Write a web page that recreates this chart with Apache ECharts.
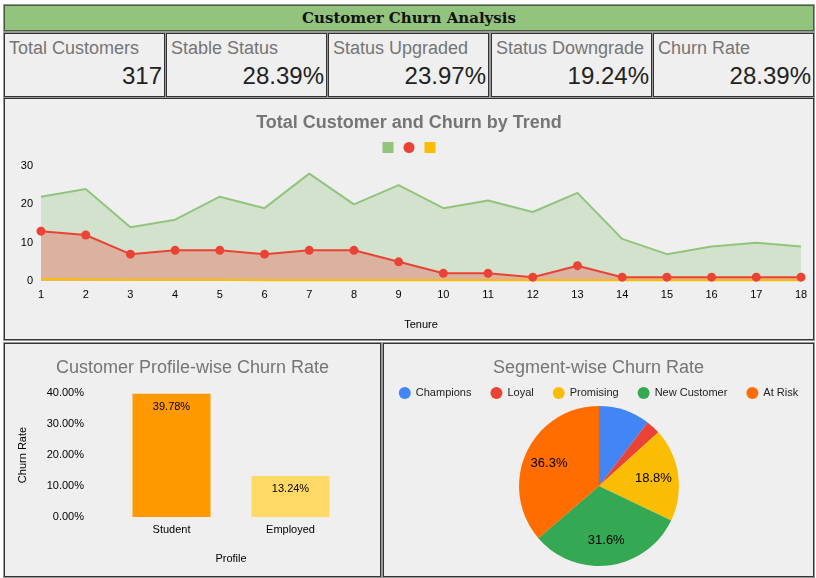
<!DOCTYPE html>
<html>
<head>
<meta charset="utf-8">
<script src="https://cdn.jsdelivr.net/npm/echarts@6/dist/echarts.min.js"></script>
<style>
  html, body { margin: 0; padding: 0; background: #ffffff; }
  body { width: 816px; height: 578px; position: relative; overflow: hidden; font-family: "Liberation Sans", Arial, sans-serif; }
  .box { position: absolute; box-sizing: border-box; border: 1px solid #333; background: #efefef; box-shadow: 0 0 0 1px #999; }
  #head { left: 4px; top: 5px; width: 810px; height: 26px; background: #93c47d; border-color: #4a5a3f;
          font-family: "DejaVu Serif", serif; font-weight: bold; font-size: 15px; color: #111; text-align: center; line-height: 25px; }
  .kpi { top: 33px; height: 64px; width: 161px; }
  .kpi .lbl { position: absolute; left: 4px; top: 4px; font-size: 18px; color: #757575; white-space: nowrap; }
  .kpi .val { position: absolute; right: 2px; top: 28px; font-size: 24px; color: #222; }
  .chart { position: absolute; left: 0; top: 0; }
</style>
</head>
<body>
<div id="head" class="box">Customer Churn Analysis</div>
<div id="kpis"></div>
<div class="box" style="left:4px;top:98px;width:810px;height:242px;"><div id="trend_chart" class="chart" style="width:808px;height:240px;"></div></div>
<div class="box" style="left:4px;top:343px;width:377px;height:234px;"><div id="profile_chart" class="chart" style="width:375px;height:232px;"></div></div>
<div class="box" style="left:383px;top:343px;width:431px;height:234px;"><div id="segment_chart" class="chart" style="width:429px;height:232px;"></div></div>

<script>
// KPI 卡片
const kpiLabels = ['Total Customers', 'Stable Status', 'Status Upgraded', 'Status Downgrade', 'Churn Rate'];
const kpiValues = ['317', '28.39%', '23.97%', '19.24%', '28.39%'];

// 趋势图数据
const tenure = ['1','2','3','4','5','6','7','8','9','10','11','12','13','14','15','16','17','18'];
const totalCustomers = [22, 24, 14, 16, 22, 19, 28, 20, 25, 19, 21, 18, 23, 11, 7, 9, 10, 9];
const churned = [13, 12, 7, 8, 8, 7, 8, 8, 5, 2, 2, 1, 4, 1, 1, 1, 1, 1];
const downgraded = [0.5, 0.4, 0.3, 0.3, 0.3, 0.2, 0.2, 0.2, 0.2, 0.2, 0.2, 0.2, 0.2, 0.2, 0.2, 0.2, 0.2, 0.2];

// 用户画像流失率
const profiles = ['Student', 'Employed'];
const profileRates = [39.78, 13.24];
const profileColors = ['#ff9900', '#ffd966'];

// 分群流失率
const segments = ['Champions', 'Loyal', 'Promising', 'New Customer', 'At Risk'];
const segmentShare = [10.4, 2.9, 18.8, 31.6, 36.3];
const segmentColors = ['#4285f4', '#ea4335', '#fbbc04', '#34a853', '#ff6d01'];

const kpiLeft = [4, 166, 328, 491, 653];
let kpiHtml = '';
kpiLabels.forEach((item, i) => {
    kpiHtml += '<div class="box kpi" style="left:' + kpiLeft[i] + 'px"><div class="lbl">' + item +
        '</div><div class="val">' + kpiValues[i] + '</div></div>';
});
document.getElementById('kpis').innerHTML = kpiHtml;

const font = '"Liberation Sans", Arial, sans-serif';

let trendChart = echarts.init(document.getElementById('trend_chart'));
trendChart.setOption({
    animation: false,
    title: {
        text: 'Total Customer and Churn by Trend',
        left: 'center', top: 10,
        textStyle: { fontFamily: font, fontSize: 18, fontWeight: 'bold', color: '#757575' }
    },
    legend: {
        top: 38, left: 'center', itemWidth: 11, itemHeight: 11, itemGap: 10,
        formatter: () => '',
        data: [
            { name: 'Customers', icon: 'rect' },
            { name: 'Churned', icon: 'circle' },
            { name: 'Downgraded', icon: 'rect' }
        ]
    },
    grid: { left: 36, right: 12, top: 67, bottom: 58 },
    xAxis: {
        type: 'category', data: tenure, boundaryGap: false,
        name: 'Tenure', nameLocation: 'middle', nameGap: 38,
        nameTextStyle: { fontFamily: font, fontSize: 11, color: '#000' },
        axisLine: { show: false }, axisTick: { show: false },
        axisLabel: { fontFamily: font, fontSize: 11, color: '#000', margin: 8 }
    },
    yAxis: {
        type: 'value', min: 0, max: 30, interval: 10,
        splitLine: { show: false },
        axisLabel: { fontFamily: font, fontSize: 11, color: '#000', margin: 8 }
    },
    series: [{
        name: 'Customers', type: 'line', data: totalCustomers, showSymbol: false,
        itemStyle: { color: '#93c47d' }, lineStyle: { width: 2, color: '#93c47d' },
        areaStyle: { color: '#93c47d', opacity: 0.3 }
    }, {
        name: 'Churned', type: 'line', data: churned, symbol: 'circle', symbolSize: 9,
        itemStyle: { color: '#ea4335' }, lineStyle: { width: 2, color: '#ea4335' },
        areaStyle: { color: '#ea4335', opacity: 0.3 }
    }, {
        name: 'Downgraded', type: 'line', data: downgraded, showSymbol: false,
        itemStyle: { color: '#fbbc04' }, lineStyle: { width: 2, color: '#fbbc04' },
        areaStyle: { color: '#fbbc04', opacity: 0.3 }
    }]
});

let profileChart = echarts.init(document.getElementById('profile_chart'));
profileChart.setOption({
    animation: false,
    title: {
        text: 'Customer Profile-wise Churn Rate',
        left: 'center', top: 10,
        textStyle: { fontFamily: font, fontSize: 18, fontWeight: 'normal', color: '#757575' }
    },
    grid: { left: 107, right: 30, top: 49, bottom: 59 },
    xAxis: {
        type: 'category', data: profiles,
        name: 'Profile', nameLocation: 'middle', nameGap: 36,
        nameTextStyle: { fontFamily: font, fontSize: 11, color: '#000' },
        axisLine: { show: false }, axisTick: { show: false },
        axisLabel: { fontFamily: font, fontSize: 11, color: '#000', margin: 7 }
    },
    yAxis: {
        type: 'value', min: 0, max: 40, interval: 10,
        name: 'Churn Rate', nameLocation: 'middle', nameGap: 84, nameRotate: 90,
        nameTextStyle: { fontFamily: font, fontSize: 11, color: '#000' },
        splitLine: { show: false },
        axisLabel: { fontFamily: font, fontSize: 11, color: '#000', margin: 28, formatter: v => v.toFixed(2) + '%' }
    },
    series: [{
        type: 'bar', barWidth: 78,
        data: profileRates.map((v, i) => ({ value: v, itemStyle: { color: profileColors[i] } })),
        label: {
            show: true, position: 'insideTop', distance: 8,
            fontFamily: font, fontSize: 11, color: '#000',
            formatter: p => p.value.toFixed(2) + '%'
        }
    }]
});

let segmentChart = echarts.init(document.getElementById('segment_chart'));
const pieData = segments.map((name, i) => ({ name: name, value: segmentShare[i], itemStyle: { color: segmentColors[i] } }));
segmentChart.setOption({
    animation: false,
    title: {
        text: 'Segment-wise Churn Rate',
        left: 'center', top: 10,
        textStyle: { fontFamily: font, fontSize: 18, fontWeight: 'normal', color: '#757575' }
    },
    legend: {
        top: 38, left: 'center', icon: 'circle', itemWidth: 12, itemHeight: 12, itemGap: 19,
        textStyle: { fontFamily: font, fontSize: 11, color: '#222' },
        data: segments
    },
    series: [{
        type: 'pie', center: [215, 142], radius: [0, 80], startAngle: 90,
        data: pieData, label: { show: false }, labelLine: { show: false },
        itemStyle: { borderWidth: 0 }
    }, {
        // 透明的一层，只用来放内部标签
        type: 'pie', center: [215, 142], radius: [24, 80], startAngle: 90, silent: true,
        data: pieData.map(d => ({ name: d.name, value: d.value })),
        itemStyle: { color: 'rgba(0,0,0,0)' },
        labelLine: { show: false },
        label: {
            show: true, position: 'inside',
            fontFamily: font, fontSize: 13, color: '#000',
            formatter: p => p.value < 15 ? '' : p.value.toFixed(1) + '%'
        }
    }]
});
</script>
</body>
</html>
